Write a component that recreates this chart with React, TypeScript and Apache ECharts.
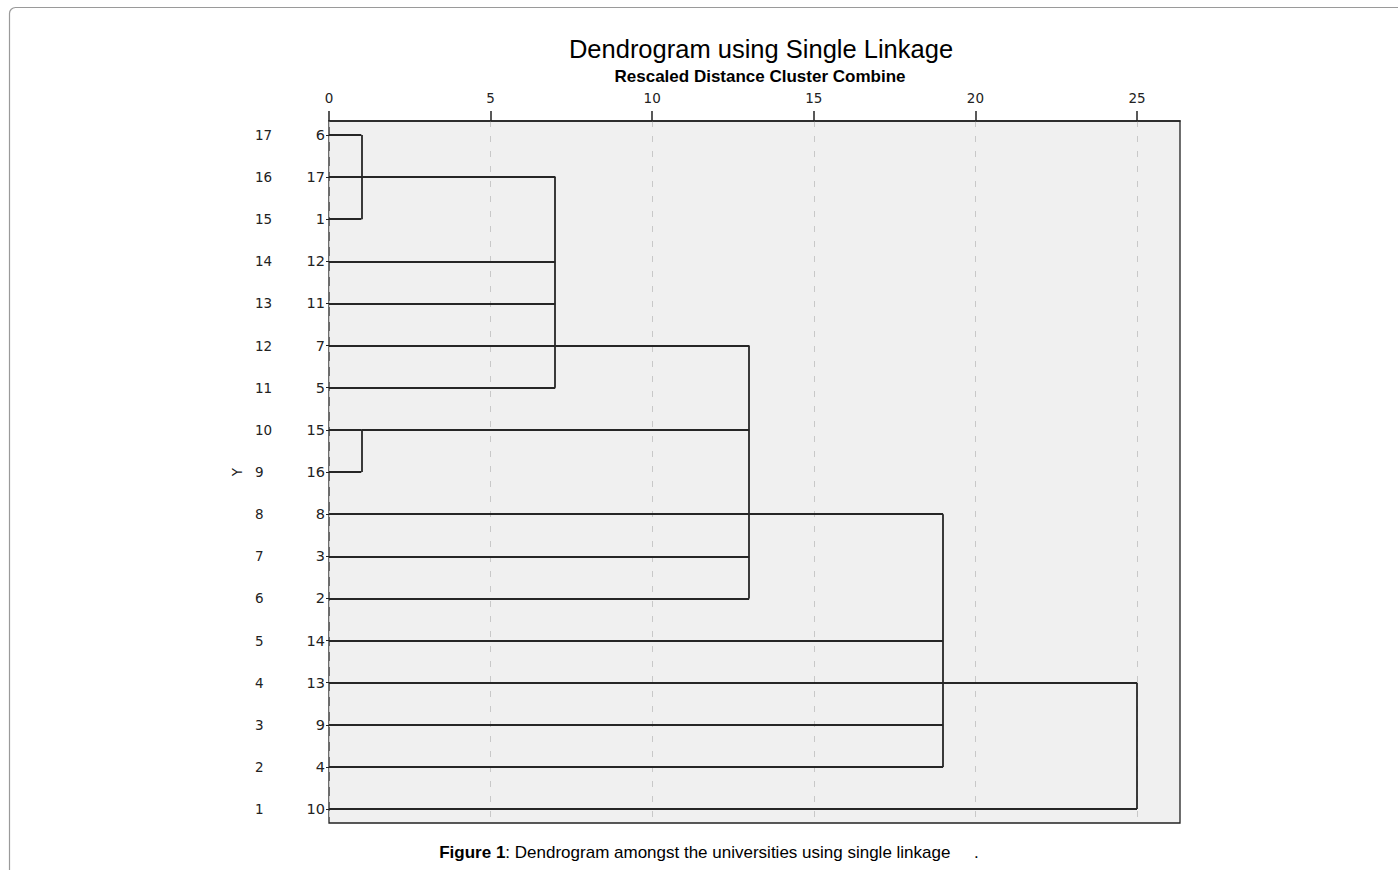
import React, { useEffect, useRef } from "react";
import * as echarts from "echarts";

// Rows 1..17 from bottom to top
const rowNumbers = ["1","2","3","4","5","6","7","8","9","10","11","12","13","14","15","16","17"];
const caseLabels = ["10","4","9","13","14","2","3","8","16","15","5","7","11","12","1","17","6"];
// rescaled distance at which each leaf (row 1..17) first joins a cluster
const leafJoin = [25, 19, 19, 19, 19, 13, 13, 13, 1, 1, 7, 7, 7, 7, 1, 7, 1];
// merges: height, vertical span (top row, bottom row), row of cluster line, parent height
const mergeHeight = [1, 1, 7, 13, 19, 25];
const mergeTop = [17, 10, 16, 12, 8, 4];
const mergeBottom = [15, 9, 11, 6, 2, 1];
const mergeRow = [16, 10, 12, 8, 4, 0];
const mergeParent = [7, 13, 13, 19, 25, 0];
const xTicks = [0, 5, 10, 15, 20, 25];

const LABEL_FONT = "DejaVu Sans, Verdana, sans-serif";

export default function App() {
  const ref = useRef<HTMLDivElement>(null);
  useEffect(() => {
    document.body.style.margin = "0";
    const chart = echarts.init(ref.current!, null, { renderer: "svg" });
    const segs: any[] = [];
    leafJoin.forEach((h, i) => {
      segs.push({ coords: [[0, i + 1], [h, i + 1]] });
    });
    mergeHeight.forEach((h, i) => {
      segs.push({ coords: [[h, mergeTop[i]], [h, mergeBottom[i]]] });
      if (mergeParent[i] > 0) {
        segs.push({ coords: [[h, mergeRow[i]], [mergeParent[i], mergeRow[i]]] });
      }
    });
    const rowValues = rowNumbers.map((_, i) => i + 1);
    chart.setOption({
      animation: false,
      backgroundColor: "#ffffff",
      title: [
        {
          text: "Dendrogram using Single Linkage",
          left: 756,
          top: 31,
          textAlign: "center",
          textStyle: { fontFamily: "Liberation Sans, Arial", fontSize: 25.5, fontWeight: "normal", color: "#000" },
        },
        {
          text: "Rescaled Distance Cluster Combine",
          left: 755,
          top: 63,
          textAlign: "center",
          textStyle: { fontFamily: "Liberation Sans, Arial", fontSize: 17, fontWeight: "bold", color: "#000" },
        },
      ],
      graphic: [
        {
          type: "rect",
          shape: { x: 9.5, y: 7.5, width: 1600, height: 1000, r: 6 },
          style: { fill: "none", stroke: "#9a9a9a", lineWidth: 1.2 },
          silent: true,
        },
        {
          type: "text",
          x: 709,
          y: 852,
          style: {
            text: "{b|Figure 1}: Dendrogram amongst the universities using single linkage     .",
            align: "center",
            verticalAlign: "middle",
            fontFamily: "Liberation Sans, Arial",
            fontSize: 17,
            fill: "#000",
            rich: {
              b: { fontWeight: "bold", fontFamily: "Liberation Sans, Arial", fontSize: 17, fill: "#000" },
            },
          },
        },
      ],
      grid: {
        left: 329,
        top: 121,
        right: 218,
        bottom: 47,
        show: true,
        backgroundColor: "#f0f0f0",
        borderColor: "#222",
        borderWidth: 1.3,
      },
      xAxis: {
        type: "value",
        position: "top",
        min: 0,
        max: 26.33,
        axisLine: { show: true, lineStyle: { color: "#222", width: 1.5 } },
        axisTick: { show: true, customValues: xTicks, length: 10, lineStyle: { color: "#222", width: 1.5 } },
        axisLabel: {
          customValues: xTicks,
          margin: 16,
          color: "#222",
          fontFamily: LABEL_FONT,
          fontSize: 13.5,
        },
        splitLine: {
          show: true,
          lineStyle: { color: "#c8c8c8", type: [6, 9], width: 1 },
        },
      },
      yAxis: [
        {
          type: "value",
          min: 0.67,
          max: 17.33,
          position: "left",
          axisLine: { show: false },
          axisTick: { show: true, customValues: rowValues, length: 3, lineStyle: { color: "#222" } },
          axisLabel: {
            customValues: rowValues,
            formatter: (v: number) => caseLabels[Math.round(v) - 1],
            margin: 4,
            color: "#222",
            fontFamily: LABEL_FONT,
            fontSize: 14.5,
          },
          splitLine: { show: false },
        },
        {
          type: "value",
          min: 0.67,
          max: 17.33,
          position: "left",
          offset: 74,
          name: "Y",
          nameLocation: "middle",
          nameRotate: 90,
          nameGap: 11,
          nameTextStyle: { color: "#222", fontFamily: LABEL_FONT, fontSize: 13.5 },
          axisLine: { show: false },
          axisTick: { show: false },
          axisLabel: {
            customValues: rowValues,
            formatter: (v: number) => rowNumbers[Math.round(v) - 1],
            margin: 0,
            align: "left",
            color: "#222",
            fontFamily: LABEL_FONT,
            fontSize: 13.5,
          },
          splitLine: { show: false },
        },
      ],
      series: [
        {
          type: "lines",
          coordinateSystem: "cartesian2d",
          xAxisIndex: 0,
          yAxisIndex: 0,
          silent: true,
          lineStyle: { color: "#262626", width: 1.8, opacity: 1 },
          data: segs,
        },
      ],
    });
    return () => chart.dispose();
  }, []);
  return <div ref={ref} style={{ width: 1398, height: 870 }} />;
}
